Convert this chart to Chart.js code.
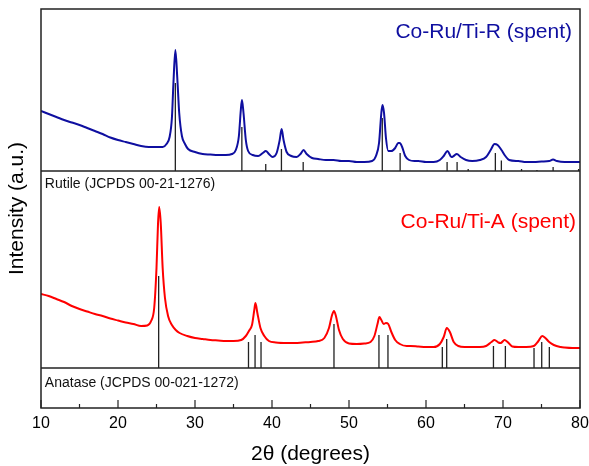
<!DOCTYPE html>
<html>
<head>
<meta charset="utf-8">
<script src="https://cdn.jsdelivr.net/npm/chart.js@4.4.1/dist/chart.umd.min.js"></script>
<style>
  html, body { margin: 0; padding: 0; background: #fff; }
  #wrap { width: 589px; height: 466px; position: relative; }
</style>
</head>
<body>
<div id="wrap"><canvas id="c" width="589" height="466"></canvas></div>
<script>
// ---- Data (2θ in degrees, intensity in arbitrary units, stacked offsets included) ----
const blueTheta = [10,11,12,13,14,15,16,17,18,19,20,21,22,23,24,25,25.8,26.3,26.7,27.0,27.2,27.45,27.7,27.95,28.3,28.7,29.1,30,31,32,33,34,34.8,35.3,35.7,35.95,36.1,36.3,36.6,36.9,37.5,38.2,38.8,39.2,39.6,40.1,40.6,41.0,41.25,41.5,41.9,42.5,43.2,43.7,44.1,44.5,45.2,46,47,48,49,50,51,52,53,53.5,53.9,54.2,54.35,54.55,54.8,55.1,55.5,56.0,56.4,56.6,56.9,57.3,57.8,58.5,59,60,61,61.8,62.3,62.8,63.3,63.6,64.0,64.5,65.2,66,67,67.8,68.4,68.9,69.3,69.8,70.3,70.8,72,73,74,75,76,76.5,77,78,79,80];
const blueValues = [297,294,291,288,285.5,283,280,277,274,270.5,268,266,264,262,261,261,261,264,271,290,325,358,330,295,272,264,259,256,254,253.5,253,253,254,258,272,298,308,295,268,257,253,252,255,257,254,251,255,268,279,268,256,252,251,254,258,254,250,249,248,248,247,247,246,246,247,252,265,295,303,295,270,257,257,260,265,265,261,252,248,247,247,246,246,248,252,257,251,252,254,251,248,247,248,251,258,264,263,258,252,248,247,246,246,246.5,247,248.5,247,246,246,246];

const redTheta = [10,11,12,13,14,15,16,17,18,19,20,21,22,23,23.8,24.3,24.7,25.0,25.2,25.35,25.55,25.8,26.1,26.5,27.0,27.5,28,29,30,31,32,33,34,35,36,36.6,37.0,37.4,37.7,37.85,38.1,38.5,39.0,39.6,40.5,42,43,44,45,46,46.8,47.4,47.8,48.05,48.3,48.7,49.2,50,51,52,52.8,53.3,53.7,53.95,54.2,54.5,54.8,55.1,55.5,56,56.6,57.5,58,59,60,61,61.8,62.3,62.7,63.1,63.6,64.2,65,66,67,67.8,68.5,68.9,69.4,69.7,70.2,70.6,71.2,72,73,74,74.6,75.1,75.5,76,76.6,77.5,78,79,80];
const redValues = [114,112,109,106,102,99,96.5,94,92,89.5,87.5,85.5,84,82,82.5,87,100,140,185,201,185,140,110,92,83,78,75,72,70,69,68,67.5,67,67,68,72,77,83,98,105,95,80,72,67,65.5,65,65,65.5,66,67,70,80,93,97,92,78,69,64.5,64,64.5,66,72,84,91,88,84,85,84,76,68,64,62,62,61.5,61,61,64,71,80,76,66,62,61,61,61,62,66,68,65.5,65,68,66,61.5,61,61,62,67,72,70,66,63,61,60.5,60,60];

// Reference stick patterns
const rutileTheta   = [27.446,36.085,39.187,41.225,44.050,54.322,56.640,62.740,64.038,65.478,69.008,69.788,72.408,74.409,76.508,79.819];
const rutileHeights = [88,44,7,22,9,53,18,9,9,2,18,10.5,2,1,4,2];
const anataseTheta   = [25.281,36.947,37.800,38.575,48.049,53.890,55.060,62.119,62.688,68.760,70.309,74.029,75.029,76.017];
const anataseHeights = [92,26,33,26,44,33,33,21,29,22,22,20,26,21];

const rutileBase = 237;   // baseline of the top (rutile) reference panel
const anataseBase = 40;   // baseline of the bottom (anatase) reference panel
const xTicks = [10,20,30,40,50,60,70,80];

const seriesLabels = ['Co-Ru/Ti-R (spent)', 'Co-Ru/Ti-A (spent)'];
const refLabels = ['Rutile (JCPDS 00-21-1276)', 'Anatase (JCPDS 00-021-1272)'];

// ---- Build library data ----
function pairs(xs, ys) { return xs.map((x, i) => ({x: x, y: ys[i]})); }
function sticks(xs, hs, base) {
  const out = [];
  xs.forEach((x, i) => { out.push({x: x, y: base}, {x: x, y: base + hs[i]}, {x: x, y: null}); });
  return out;
}
const FONT = '"Liberation Sans", Arial, sans-serif';
const BLUE = '#0f0fa0';
const RED = '#ff0000';

const annotate = {
  id: 'annotate',
  afterDatasetsDraw(chart) {
    const {ctx, chartArea: a, scales: {x, y}} = chart;
    ctx.save();
    // frame
    ctx.strokeStyle = '#222';
    ctx.lineWidth = 1.5;
    ctx.strokeRect(a.left, a.top, a.right - a.left, a.bottom - a.top);
    // inward ticks on the bottom axis
    ctx.lineWidth = 1.2;
    for (let v = 10; v <= 80; v += 5) {
      const px = x.getPixelForValue(v);
      const len = (v % 10 === 0) ? 8 : 4;
      ctx.beginPath();
      ctx.moveTo(px, a.bottom);
      ctx.lineTo(px, a.bottom - len);
      ctx.stroke();
    }
    // texts
    ctx.textBaseline = 'middle';
    ctx.font = '21px ' + FONT;
    ctx.textAlign = 'right';
    ctx.fillStyle = BLUE;
    ctx.fillText(seriesLabels[0], x.getPixelForValue(78.96), y.getPixelForValue(376));
    ctx.fillStyle = RED;
    ctx.fillText(seriesLabels[1], x.getPixelForValue(79.48), y.getPixelForValue(186));
    ctx.font = '14px ' + FONT;
    ctx.textAlign = 'left';
    ctx.fillStyle = '#111';
    ctx.fillText(refLabels[0], x.getPixelForValue(10.5), y.getPixelForValue(224));
    ctx.fillText(refLabels[1], x.getPixelForValue(10.5), y.getPixelForValue(25));
    ctx.restore();
  }
};

new Chart(document.getElementById('c'), {
  type: 'line',
  data: {
    datasets: [
      { label: seriesLabels[0], data: pairs(blueTheta, blueValues), borderColor: BLUE, borderWidth: 2, pointRadius: 0, cubicInterpolationMode: 'monotone' },
      { label: seriesLabels[1], data: pairs(redTheta, redValues), borderColor: RED, borderWidth: 2, pointRadius: 0, cubicInterpolationMode: 'monotone' },
      { label: refLabels[0], data: sticks(rutileTheta, rutileHeights, rutileBase), borderColor: '#222', borderWidth: 1.3, pointRadius: 0, spanGaps: false },
      { label: refLabels[1], data: sticks(anataseTheta, anataseHeights, anataseBase), borderColor: '#222', borderWidth: 1.3, pointRadius: 0, spanGaps: false },
      { label: 'rutile baseline', data: [{x: 10, y: rutileBase}, {x: 80, y: rutileBase}], borderColor: '#222', borderWidth: 1.5, pointRadius: 0 },
      { label: 'anatase baseline', data: [{x: 10, y: anataseBase}, {x: 80, y: anataseBase}], borderColor: '#222', borderWidth: 1.5, pointRadius: 0 }
    ]
  },
  options: {
    responsive: false,
    animation: false,
    devicePixelRatio: 1,
    layout: { padding: { top: 9, right: 9, left: 0, bottom: 0 } },
    plugins: { legend: { display: false }, tooltip: { enabled: false } },
    scales: {
      x: {
        type: 'linear', min: 10, max: 80,
        afterBuildTicks: (s) => { s.ticks = xTicks.map(v => ({value: v})); },
        afterFit: (s) => { s.height = 58; s.paddingRight = 0; s.paddingLeft = 0; },
        grid: { display: false, drawTicks: false },
        border: { display: false },
        ticks: { padding: 6, autoSkip: false, maxRotation: 0, color: '#000', font: { family: FONT, size: 16 } },
        title: { display: true, text: '2θ (degrees)', color: '#000', font: { family: FONT, size: 21 }, padding: { top: 0, bottom: -1 } }
      },
      y: {
        type: 'linear', min: 0, max: 399,
        afterFit: (s) => { s.width = 41; },
        grid: { display: false, drawTicks: false },
        border: { display: false },
        ticks: { display: false },
        title: { display: true, text: 'Intensity (a.u.)', color: '#000', font: { family: FONT, size: 21 }, padding: { top: 5, bottom: 0 } }
      }
    }
  },
  plugins: [annotate]
});
</script>
</body>
</html>
